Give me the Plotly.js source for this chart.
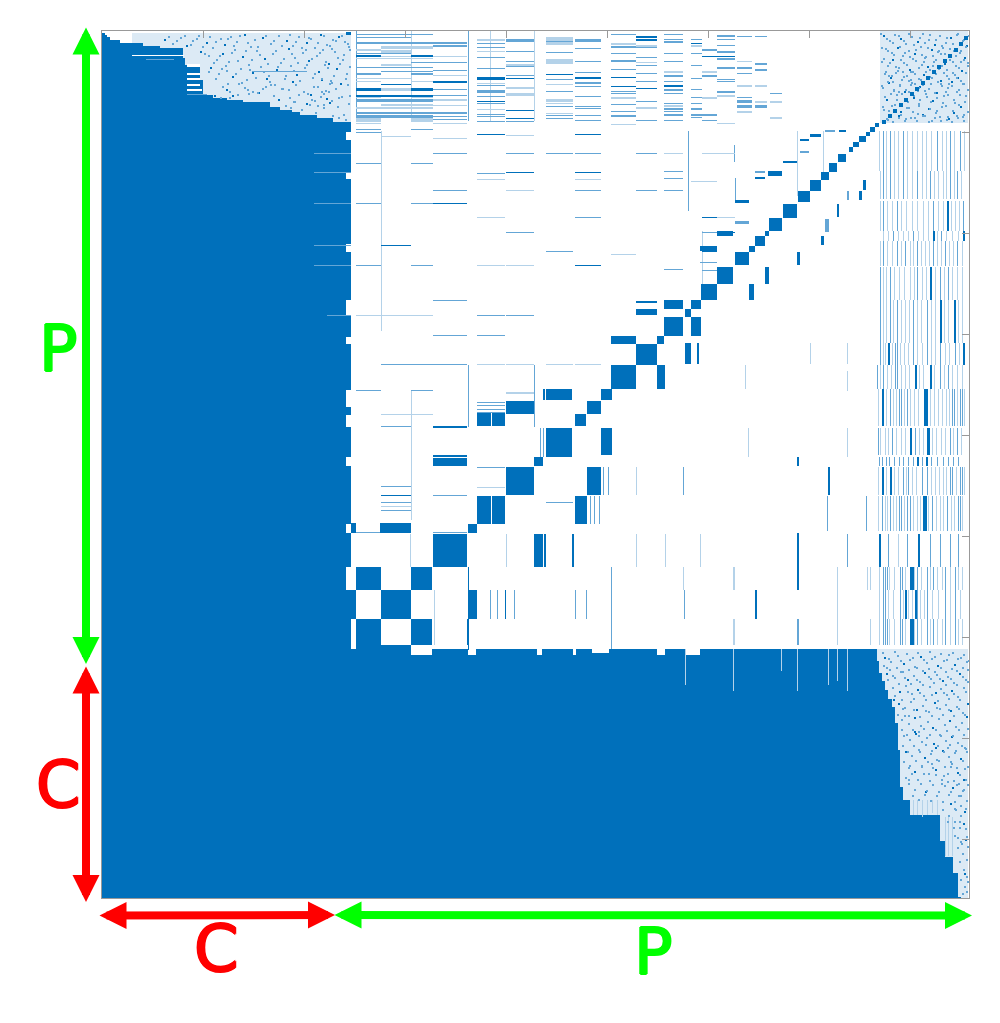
<!DOCTYPE html>
<html><head><meta charset="utf-8">
<script src="https://cdn.plot.ly/plotly-3.0.1.min.js"></script>
<style>html,body{margin:0;padding:0;background:#fff}.heatmaplayer image{filter:blur(0.45px)}</style></head>
<body><div id="chart" style="width:1000px;height:1023px"></div>
<script>
const matrixSize = 867;
const tickStep = 101;
const shades = ['#ffffff','#dceaf5','#b4d2e9','#64a6d6','#0070bb'];
// all entries are matrix indices (column, row)
const upperStairRows = [0,2,4,6,9,12,15,17,27,34,49,64,67,69,71,76,79,81,84,87,91];
const upperStairCols = [0,3,5,8,18,41,58,81,83,98,101,111,125,141,168,178,190,198,215,231,249];
const lowerStairRows = [619,630,642,650,659,668,676,692,719,756,769,784,810,826,842,866];
const lowerStairCols = [775,777,780,783,786,790,793,796,798,801,808,838,843,851,856,859];
const whiteBlocks = [[244,249,101,109],[244,249,141,148],[244,249,213,221],[244,249,269,284],[244,249,306,313],
 [244,249,359,376],[244,249,384,396],[244,249,426,435],[244,249,493,502],[244,249,536,559],
 [309,330,614,624],[366,374,618,624],[435,440,618,624],[555,563,618,624],[583,598,618,624],[471,474,618,624],[490,507,618,622],
 [85,98,33,36],[85,98,42,44],[85,98,47,49],[85,98,53,55],[85,100,58,60],[30,82,24,25]];
const whiteCols = [[583,618,654],[631,618,660],[695,618,660],[726,618,654],[745,618,660],[735,618,650],[679,618,640],
 [811,769,784],[815,769,784],[820,769,786],[825,769,784],[830,769,782],[835,769,784],[843,786,825],[846,786,825],[850,786,825]];
const stubRows = [[122,212,249],[141,212,249],[172,212,249],[214,212,249],[234,212,249],[284,225,249],[40,150,205],[28,44,72],[63,85,105]];
const denseBlocks = [[254,279,536,559],[309,330,536,559],[279,309,559,588],[254,279,588,614],[309,330,588,614],[331,365,503,536],
 [278,309,492,502],[249,254,492,502],[249,254,559,588],[254,309,614,618],[366,375,493,502],[366,375,559,588],[375,389,465,493],[390,403,465,493],[404,432,436,464],
 [485,499,436,464],[473,485,465,493],[432,441,503,536],[442,444,503,536],[470,472,503,536],[444,470,397,424],[499,510,397,424],
 [432,441,426,435],[444,470,424,426],[331,365,427,435],[331,365,424,426],[331,365,395,397],[375,389,382,395],[390,403,382,395],
 [404,432,370,383],[444,470,358,369],[441,443,358,369],[485,499,370,383],[473,484,383,395],[499,510,358,369],[509,534,334,358],
 [534,555,313,334],[583,589,312,333],[595,597,312,333],[555,563,334,358],[509,534,305,313],[534,555,278,284],[534,555,270,272],[555,562,305,313],
 [562,581,269,278],[562,581,286,305],[589,599,286,305],[589,599,269,278],[583,589,278,286],
 [599,615,253,269],[615,631,236,253],[633,647,221,234],[647,653,215,221],[653,663,205,215],[663,667,200,205],[667,680,187,200],
 [681,695,173,187],[696,708,160,171],[708,719,149,160],[719,727,141,149],[727,735,132,141],[736,744,123,131],[747,751,116,121],
 [751,757,111,116],[757,764,105,111],[764,768,101,105],[768,773,96,101],[773,777,92,96],
 [647,652,253,269],[663,667,236,253],[695,698,221,234],[719,722,205,214],[735,737,173,186],[757,760,160,169],[761,764,149,159],
 [598,615,215,220],[615,631,200,205],[633,647,169,172],[653,663,146,148],[666,680,140,145],[681,695,130,132],[698,707,108,110],
 [708,719,103,106],[737,744,99,101],[244,249,1,4]];
const midBlocks = [[723,727,188,201],[745,747,160,169],[598,615,231,232],[633,647,190,193],[653,663,140,142],[698,707,120,122],[723,733,99,101]];
// column spans used by the horizontal stripes
const stripeSpans = {a:[254,279],b:[279,309],c:[309,331],d:[331,365],e:[375,403],f:[404,432],g:[444,471],h:[473,499],i:[509,534],j:[534,555],
 k:[562,581],m:[589,600],n:[600,615],o:[615,633],p:[635,650],q:[653,665],r:[668,680],s:[683,697],t:[698,709],u:[710,722],v:[723,735]};
// [row, thickness, shade, spans]
const stripeRows = [[8,3,2,'f'],[8,2,1,'e'],[8,3,2,'h'],[5,2,3,'j'],[11,2,2,'abcd'],[12,1,2,'e'],[12,2,1,'i'],[6,8,1,'g'],[15,3,1,'bc'],[16,1,2,'e'],[15,2,2,'i'],[16,1,2,'j'],
 [19,3,1,'b'],[20,1,1,'e'],[20,1,2,'f'],[24,2,3,'ac'],[25,1,1,'bd'],[29,2,2,'i'],[28,5,1,'g'],[30,1,2,'fh'],[36,1,2,'abc'],[34,1,2,'j'],
 [39,1,2,'d'],[40,1,2,'bc'],[38,1,2,'i'],[37,1,2,'e'],[46,3,3,'e'],[43,1,3,'g'],[46,2,3,'h'],[47,1,3,'f'],[47,1,1,'ab'],[50,2,3,'d'],[50,1,1,'ac'],[53,1,3,'b'],[52,1,1,'e'],
 [55,1,3,'i'],[56,2,1,'f'],[57,3,3,'ac'],[57,3,1,'b'],[61,1,2,'e'],[62,1,2,'i'],[60,1,2,'g'],[62,3,1,'f'],[64,2,3,'abc'],[64,1,2,'d'],[65,1,2,'e'],[68,3,2,'abc'],[68,2,1,'d'],[70,1,3,'e'],[68,3,1,'g'],
 [73,2,1,'bc'],[73,1,2,'i'],[74,1,1,'d'],[81,2,2,'abcd'],[79,1,3,'f'],[78,1,1,'e'],[84,3,2,'abc'],[85,1,2,'de'],[87,4,1,'ac'],[87,1,3,'f'],[89,1,2,'jh'],[93,1,1,'i'],
 [98,1,2,'ac'],[101,1,2,'a'],[103,1,3,'e'],[103,1,3,'h'],[104,1,1,'f'],[105,1,1,'b'],[107,1,1,'d'],[122,1,2,'dfgjh'],[132,1,2,'ac'],[141,1,3,'f'],[142,1,2,'e'],[141,1,3,'h'],
 [148,1,1,'eh'],[159,1,2,'dhj'],[159,1,1,'f'],[172,1,2,'ac'],[172,1,3,'d'],[186,1,1,'e'],[186,1,2,'h'],[201,1,2,'f'],[214,1,3,'b'],[220,1,2,'g'],[223,1,1,'i'],[234,1,2,'ac'],[234,1,1,'ef'],[234,1,3,'h'],
 [269,1,2,'d'],[284,1,1,'abc'],[284,1,2,'ef'],[304,1,2,'de'],[333,1,2,'bcd'],[333,1,1,'efgh'],[359,1,2,'ac'],[361,2,1,'f'],[371,1,2,'e'],[374,1,2,'e'],[378,1,2,'e'],[381,1,2,'e'],
 [383,1,1,'bc'],[395,1,2,'b'],[436,1,2,'e'],[455,1,2,'b'],[456,1,1,'e'],[464,1,3,'b'],[464,1,2,'d'],[471,1,2,'bg'],[475,1,1,'b'],[479,1,2,'b'],[501,1,2,'ad'],
 [8,1,2,'kmo'],[10,2,2,'k'],[5,1,2,'pq'],[12,1,3,'m'],[18,2,2,'n'],[25,1,3,'no'],[27,2,2,'o'],[32,2,2,'q'],[36,2,2,'op'],[38,2,2,'q'],[44,2,2,'kn'],[50,1,2,'ko'],[54,2,3,'k'],[58,1,2,'m'],
 [60,2,2,'o'],[62,1,2,'kr'],[66,1,2,'mp'],[69,3,2,'p'],[70,2,1,'qr'],[74,3,2,'pq'],[77,2,2,'km'],[80,1,2,'k'],[83,2,2,'kmn'],[86,2,1,'r'],[89,1,2,'kn'],[92,1,1,'o'],
 [122,1,1,'kno'],[140,1,2,'k'],[147,1,2,'k'],[150,1,1,'mn'],[159,1,2,'k'],[186,1,3,'n'],[186,1,1,'o'],[201,1,2,'n'],[201,1,3,'o'],[220,1,3,'n'],[238,1,2,'k'],[239,1,2,'n'],
 [3,1,2,'abc'],[14,2,2,'d'],[18,2,1,'a'],[22,1,2,'ab'],[27,1,1,'abc'],[31,1,2,'cd'],[33,2,1,'b'],[42,2,2,'ac'],[44,1,1,'d'],[48,1,2,'g'],[51,2,2,'h'],[54,1,2,'e'],[58,1,2,'d'],[59,2,2,'e'],
 [66,1,1,'ac'],[72,1,2,'e'],[76,2,1,'abc'],[75,1,2,'gh'],[83,1,2,'e'],[88,1,2,'d'],[90,1,2,'ef'],[92,1,1,'ad'],[6,1,2,'ab'],[10,1,2,'g'],[17,1,2,'h'],[21,1,2,'g'],[26,1,2,'e'],[33,2,1,'f'],[35,1,2,'f'],[41,1,2,'h'],
 [44,1,2,'f'],[53,1,1,'g'],[55,1,2,'h'],[65,1,2,'h'],[72,1,1,'g'],[77,1,2,'h'],[82,1,1,'g'],[84,1,2,'gh'],[87,1,2,'g'],[3,1,2,'i'],[8,2,3,'j'],[14,2,1,'j'],[22,1,2,'i'],[26,1,2,'j'],[31,1,1,'j'],
 [42,1,2,'j'],[46,1,3,'i'],[50,1,2,'j'],[57,1,3,'j'],[60,1,2,'i'],[66,2,1,'i'],[70,1,2,'j'],[76,2,1,'j'],[80,1,2,'i'],[84,2,2,'i'],[3,1,2,'k'],[14,2,1,'m'],[22,1,2,'km'],[30,1,2,'k'],[34,1,2,'m'],[40,2,1,'kn'],
 [47,1,2,'m'],[58,2,2,'k'],[66,2,1,'n'],[72,1,2,'km'],[74,2,1,'k'],[86,1,2,'m'],[4,2,2,'o'],[14,1,2,'o'],[20,2,2,'o'],[30,1,1,'p'],[42,1,2,'p'],[48,1,2,'o'],[54,2,1,'pq'],[64,2,1,'o'],[80,2,1,'p']];
// [column, width, shade, first row, last row]
const stripeCols = [[309,1,1,359,489],[366,1,2,334,396],[432,1,2,334,396],[366,1,3,536,619],[509,1,2,536,618],[404,1,1,503,536],[308,1,1,503,536],[332,1,1,559,614],
 [388,1,2,559,588],[395,1,2,559,588],[403,1,3,559,588],[412,1,2,559,588],[473,1,2,559,588],[484,1,2,559,588],[501,1,2,436,464],[506,1,2,436,464],[488,1,2,465,493],[492,1,2,465,493],[497,1,2,465,493],
 [438,1,2,397,426],[441,1,2,397,426],[534,1,1,436,464],[534,1,1,503,536],[365,1,3,588,614],[581,1,2,436,464],[582,1,2,559,588],[581,1,1,536,559],[631,2,1,536,559],[631,2,1,588,614],[653,2,3,559,588],
 [695,2,3,502,559],[695,2,2,588,614],[735,1,1,536,614],[745,1,2,503,536],[726,2,3,436,464],[725,1,2,465,500],[764,1,2,465,500],[765,1,1,536,559],[768,1,1,536,559],[768,1,1,588,614],
 [598,1,1,503,536],[563,1,1,503,536],[646,1,1,397,426],[695,2,3,426,435],[708,1,1,312,333],[745,1,1,312,333],[643,1,1,334,358],[745,1,1,397,426],[633,1,2,147,170],[632,1,2,114,131],[695,1,1,100,165],[721,1,1,100,145],
 [254,1,2,0,90],[279,1,1,100,300],[309,1,1,0,90],[366,1,2,0,90],[388,1,1,0,90],[432,1,1,0,90],[586,1,2,100,180],[600,1,1,200,260],[745,1,1,340,360],
 [777,2,3,503,536],[786,1,2,503,536],[796,1,1,503,536],[805,1,2,503,536],[816,2,3,503,536],[828,1,2,503,536],[838,1,2,503,536],[848,1,2,503,536],[856,1,2,503,536]];
// [first row, last row, columns (shade 3 if negative)]
const panelBands = [[536,559,[781,783,785,798,800,-808,-810,815,825,831,843,853]],[559,588,[781,783,798,-803,-813,815,825,843,853]],[588,614,[781,783,785,798,800,-808,-810,815,825,831,843,853]],
 [465,500,[780,788,797,799,805,808,-821,-823,830,845,856,858]],[436,464,[-780,-788,801,806,820,825,848,850,858,860]],[426,435,[777,780,784,787,792,797,801,806,811,-815,820,-824,829,835,841,846,851,856]],
 [397,424,[776,790,-808,813,-825,-826,848,855]],[358,395,[-780,788,797,799,805,-822,-824,850,852,858,860]],[334,358,[775,781,793,795,-813,-828,838,846]],[312,334,[778,-786,793,795,811,825,838,853,-861]],
 [269,312,[778,788,795,811,825,-838,-852]],[236,269,[778,788,815,-828,838,846]],[210,235,[781,795,803,815,831,843,855]],[200,210,[791,811,-831,839,-861]],[170,200,[781,795,831,-845,861]],[140,168,[781,788,801,815,828,848,855]],[100,140,[781,788,801,835,848,858]]];
// paler columns in the same bands
const panelPale = [[536,559,[777,787,792,803,812,819,828,835,840,848,856,860]],[559,588,[777,786,791,801,806,810,818,822,830,836,848,858]],[588,614,[777,787,792,803,812,819,828,835,840,848,856,860]],
 [465,500,[776,783,785,791,794,802,811,815,818,826,834,838,841,849,852,860]],[436,464,[776,784,792,796,804,810,814,829,833,837,841,844,854,862]],
 [397,424,[778,783,786,794,799,803,817,821,830,834,839,843,851,859]],[358,395,[776,784,791,794,802,808,812,816,828,832,836,840,844,847,855,862]],[334,358,[778,785,789,799,803,807,817,821,832,842,850,855,860]],
 [312,334,[781,783,790,798,802,806,815,820,829,833,843,847,857]],[269,312,[781,784,791,799,803,807,815,819,829,833,842,846,856,860]],[236,269,[781,784,792,797,802,808,812,820,824,833,842,850,855,860]],
 [210,235,[778,785,790,799,808,811,819,823,827,835,839,847,851,860]],[200,210,[781,786,796,801,806,816,821,826,835,844,850,856]],[170,200,[778,785,790,799,804,810,815,821,826,836,841,849,853,857]],
 [140,168,[778,784,792,796,805,810,820,824,832,836,841,844,852,859]],[100,140,[777,784,792,796,805,810,815,820,824,829,840,844,852,862]]];
const panelDiagCols = [780,786,791,797,802,808,813,819,824,830,835,841,846,852,857,862];
const panelDiagRows = [89,83,78,72,67,61,56,50,45,39,34,28,23,17,11,5];
const upperLeftDotCols = [62,70,78,84,90,96,104,110,118,122,128,134,142,148,152,160,168,176,184,190,196,204,208,212,218,224,230,236,242,246,
 98,106,114,120,126,132,140,146,154,162,170,178,186,192,200,206,214,220,226,232,240,108,116,124,130,138,144,150,158,166,174,182,188,194,202,210,216,222,228,234,244,
 120,124,136,150,164,172,180,190,205,211,219,223,229,112,127,142,156,168,186,208,218,226,238,118,122,130,146,160,176,196,212,224,236,192,204,215,221,227,143,152,170,188];
const upperLeftDotRows = [8,12,6,14,9,4,11,16,7,13,5,10,3,15,8,6,12,4,9,14,5,11,7,16,3,13,8,5,10,15,
 20,24,28,22,30,18,25,33,19,27,22,31,17,26,21,29,24,18,32,20,28,36,42,39,45,37,48,41,35,44,38,47,34,43,36,46,40,33,49,37,42,
 55,58,52,60,47,53,57,50,62,55,48,59,51,64,66,56,61,53,58,63,65,60,52,66,70,64,62,57,68,63,69,67,66,70,72,74,73,71,75,78,80,76,82,79,84,64,58,44,22,70];
const upperLeftExtra = [66,5,74,9,82,4,88,13,94,7,100,15,107,5,113,10,125,7,131,14,137,4,145,11,155,15,163,4,171,9,179,14,187,3,193,10,199,16,206,6,215,11,221,4,227,14,233,9,239,4,245,12,
 102,22,111,31,117,24,123,34,129,21,135,29,143,19,149,28,157,23,165,32,173,19,181,27,189,22,195,31,203,18,209,27,217,21,223,30,229,17,235,26,241,23,247,18,
 106,40,113,47,119,37,125,52,133,42,139,51,147,38,153,46,161,40,167,50,175,35,183,44,191,39,197,49,204,33,212,42,219,47,225,36,231,44,237,32,243,47,247,35,
 127,60,135,63,145,58,155,61,163,55,171,64,179,57,187,66,193,53,201,60,209,68,215,55,221,62,227,52,233,57,239,65,245,53,247,64,
 183,74,191,70,199,78,207,73,213,81,221,76,229,69,235,75,241,83,246,72,219,60,230,84,243,88,236,86];
const upperRightDotCols = [781,787,792,798,803,809,815,820,826,832,837,843,848,854,860,864,783,789,795,800,806,812,818,823,829,835,840,846,851,857,862,
 779,785,790,796,801,807,813,819,825,831,836,842,847,853,859,865,782,788,793,799,804,810,816,821,827,833,838,844,850,855,861,780,786,791,797,802,808,814,817,822,828,834,839,845,849,856,863,
 784,794,805,811,816,824,830,841,852,858,781,789,798,806,815,826,834,843,851,860,785,796,803,812,820,829,837,846,854,863];
const upperRightDotRows = [4,9,3,7,12,5,10,2,8,13,4,11,6,3,9,14,17,21,16,24,19,22,15,25,18,20,16,23,19,21,26,
 30,34,28,36,31,38,29,33,35,30,37,32,28,34,39,31,42,46,41,48,44,40,47,43,45,42,49,44,41,46,52,56,51,58,54,60,53,57,55,59,52,61,54,56,50,58,
 64,68,63,70,66,72,65,69,64,71,75,78,74,80,76,82,77,79,74,81,85,88,84,87,86,83,89,85,87,84];
const upperRightExtra = [778,2,784,7,790,11,796,4,801,9,806,2,811,13,817,6,822,11,827,3,833,8,839,14,844,6,850,12,855,2,861,8,866,4,
 779,16,785,19,791,23,797,15,802,21,807,25,813,18,819,23,825,16,830,24,836,19,842,22,847,17,853,24,858,19,863,15,
 781,27,787,31,793,35,798,28,804,33,810,27,816,36,821,30,827,38,833,28,839,34,844,38,850,30,856,36,861,28,865,34,
 783,40,789,44,795,39,801,45,806,49,812,42,818,48,823,40,829,46,835,50,841,41,846,47,852,43,858,49,863,41,
 779,54,785,50,791,59,797,53,803,58,809,51,815,59,820,53,826,57,832,61,838,52,843,60,849,54,854,60,860,52,865,58,
 782,65,788,62,794,68,799,62,805,70,811,64,817,68,823,62,828,70,834,66,840,71,845,63,851,68,857,63,862,70,
 780,75,786,79,792,73,798,83,804,76,810,80,816,74,822,84,827,77,833,81,839,75,845,85,850,79,856,73,861,83,
 784,87,790,90,796,86,802,89,808,86,814,89,820,84,826,90,832,86,838,89,844,88,849,90,855,86,861,89,865,80,
 800,40,804,44,808,48,812,52,816,56,806,60,802,68,808,40,822,26,830,34,838,22,846,52,854,46,858,30,790,50,786,44,796,60,799,48];
const lowerRightDotCols = [782,788,795,801,807,812,818,824,829,835,841,846,852,858,864,784,792,798,805,811,817,822,828,834,840,845,851,857,863,790,797,803,809,815,821,827,833,838,844,849,855,861,
 796,802,808,814,820,826,832,837,843,848,854,860,865,799,806,812,818,825,830,836,842,847,853,859,864,801,807,813,819,824,831,837,843,849,855,862,803,809,816,822,828,834,840,846,852,858,863,
 806,812,819,826,833,841,848,855,862,845,850,856,861,848,853,858,862,852,857,861,855,859,863,860,864,862,865,784,791,802,816,833,849,806,823,839,856,812,829,845,861];
const lowerRightDotRows = [626,630,624,632,628,635,625,631,627,634,629,623,633,626,630,642,646,640,648,644,650,641,647,643,649,645,651,642,648,656,660,654,662,658,664,655,661,657,663,659,665,656,
 672,676,670,678,674,680,671,677,673,679,675,681,672,688,692,686,694,690,696,687,693,689,695,691,685,704,708,702,710,706,712,703,709,705,711,716,720,724,718,726,722,728,719,725,721,727,717,
 736,740,734,742,738,744,735,741,737,750,756,752,758,772,778,774,780,790,796,792,806,812,808,822,828,842,850,636,668,684,700,716,732,748,760,752,764,700,732,716,748];
const lowerRightExtra = [780,621,786,627,792,620,798,629,804,622,810,626,815,621,821,628,827,620,832,625,838,622,844,628,850,621,855,627,861,623,866,629,
 781,634,787,638,794,636,800,640,806,638,814,636,820,639,826,637,832,640,838,636,843,640,849,637,854,639,860,636,865,638,
 785,648,790,644,796,652,802,646,808,652,814,648,820,653,826,645,831,651,837,647,843,653,848,647,854,653,860,645,865,650,
 792,664,799,668,805,660,811,667,817,661,823,668,829,663,835,669,841,661,846,667,851,662,857,668,863,660,
 795,683,800,677,806,684,811,678,817,685,823,679,829,684,834,676,840,683,846,678,851,684,856,677,862,683,
 799,698,804,703,810,698,816,704,821,697,827,703,833,698,838,704,844,699,850,704,856,698,861,703,865,697,
 800,714,805,720,811,714,817,720,823,713,829,719,835,714,841,720,847,713,853,719,859,714,864,720,
 801,730,807,734,813,729,819,735,825,730,830,736,836,729,842,735,848,730,854,736,860,729,865,735,
 803,746,809,742,815,748,821,742,827,749,833,743,839,748,845,742,851,749,857,743,863,748,
 806,752,812,758,818,752,824,759,830,753,836,760,842,754,848,760,854,753,860,759,865,753,
 810,764,816,768,822,763,828,769,834,764,840,770,846,763,852,770,858,764,864,769,
 840,778,846,784,852,777,858,784,863,777,845,790,851,796,857,790,863,797,852,804,858,810,864,805,855,816,860,822,865,815,857,830,861,838,864,828,858,848,862,855,864,845,860,862,864,860];
const arrowList = [[86,26,86,664,'#00ff00'],[86,665,86,902,'#ff0000'],[98,915.5,335,915,'#ff0000'],[333,915,972,915.5,'#00ff00']];
const labelList = [['P',58,349,'#00ff00'],['C',58,785,'#ff0000'],['C',216,949,'#ff0000'],['P',653,952,'#00ff00']];

const z = Array.from({length:matrixSize},()=>new Uint8Array(matrixSize));
function put(c0,c1,r0,r1,v){for(let r=Math.max(0,r0);r<Math.min(matrixSize,r1);r++)for(let c=Math.max(0,c0);c<Math.min(matrixSize,c1);c++)z[r][c]=v;}
function stairEnd(rows,cols,r){let e=cols[0];for(let i=0;i<rows.length;i++)if(r>=rows[i])e=cols[i];return e;}
put(30,249,2,92,1); put(778,866,0,92,1); put(775,866,618,866,1);
for(let r=0;r<618;r++)put(0,r<92?stairEnd(upperStairRows,upperStairCols,r):249,r,r+1,4);
put(0,matrixSize,618,matrixSize,0);
for(let r=618;r<matrixSize;r++){put(0,775,r,r+1,4);put(775,866,r,r+1,1);put(775,stairEnd(lowerStairRows,lowerStairCols,r),r,r+1,4);}
whiteBlocks.forEach(b=>put(b[0],b[1],b[2],b[3],0));
whiteCols.forEach(w=>put(w[0],w[0]+1,w[1],w[2],2));
stubRows.forEach(s=>put(s[1],s[2],s[0],s[0]+1,3));
stripeCols.forEach(s=>put(s[0],s[0]+s[1],s[3],s[4],s[2]+1));
panelPale.forEach(b=>b[2].forEach(c=>put(c,c+1,b[0],b[1],2)));
panelBands.forEach(b=>b[2].forEach(c=>{const v=c<0?4:3;const col=Math.abs(c);put(col,col+(v===4?2:1),b[0],b[1],v);}));
stripeRows.forEach(s=>{for(const k of s[3]){const sp=stripeSpans[k];put(sp[0],sp[1],s[0],s[0]+s[1],s[2]+1);}});
denseBlocks.forEach(b=>put(b[0],b[1],b[2],b[3],4));
midBlocks.forEach(b=>put(b[0],b[1],b[2],b[3],3));
function speckle(c,r,v,limit){if(!limit||c>=stairEnd(lowerStairRows,lowerStairCols,r))put(c,c+2,r,r+2,v);}
upperLeftDotCols.forEach((c,i)=>{if(c>=stairEnd(upperStairRows,upperStairCols,upperLeftDotRows[i]))put(c,c+2,upperLeftDotRows[i],upperLeftDotRows[i]+2,i%3===0?4:3);});
for(let i=0;i<upperLeftExtra.length;i+=2){const c=upperLeftExtra[i],r=upperLeftExtra[i+1];if(c>=stairEnd(upperStairRows,upperStairCols,r))put(c,c+2,r,r+2,3);}
upperRightDotCols.forEach((c,i)=>speckle(c,upperRightDotRows[i],i%3===0?4:3));
for(let i=0;i<upperRightExtra.length;i+=2)speckle(upperRightExtra[i],upperRightExtra[i+1],3);
lowerRightDotCols.forEach((c,i)=>speckle(c,lowerRightDotRows[i],i%3===0?4:3,true));
for(let i=0;i<lowerRightExtra.length;i+=2)speckle(lowerRightExtra[i],lowerRightExtra[i+1],3,true);
panelDiagCols.forEach((c,i)=>put(c,c+4,panelDiagRows[i],panelDiagRows[i]+4,4));

const W=867,L=102,T=31;
const px=v=>(v-L)/W, py=v=>1-(v-T)/W;
const annotations=[];
arrowList.forEach(a=>annotations.push({xref:'paper',yref:'paper',axref:'pixel',ayref:'pixel',x:px(a[2]),y:py(a[3]),ax:a[0]-a[2],ay:a[1]-a[3],text:'',showarrow:true,
  arrowside:'end+start',arrowhead:2,startarrowhead:2,arrowsize:0.675,startarrowsize:0.675,arrowwidth:8,arrowcolor:a[4],standoff:0,startstandoff:0}));
labelList.forEach(l=>annotations.push({xref:'paper',yref:'paper',x:px(l[1]),y:py(l[2]),xanchor:'center',yanchor:'middle',text:l[0],showarrow:false,
  font:{family:'DejaVu Sans',size:64,color:l[3],shadow:`1px 0 0 ${l[3]},-1px 0 0 ${l[3]},0 1px 0 ${l[3]},0 -1px 0 ${l[3]}`}}));
Plotly.newPlot('chart',[{type:'heatmap',z:z.map(r=>Array.from(r)),x0:0.5,dx:1,y0:0.5,dy:1,zmin:0,zmax:4,showscale:false,hoverinfo:'skip',zsmooth:false,
  colorscale:shades.map((s,i)=>[i/4,s])}],{
  width:1000,height:1023,margin:{l:102,t:31,r:31,b:125,pad:0},paper_bgcolor:'#fff',plot_bgcolor:'#fff',showlegend:false,
  xaxis:{range:[0,matrixSize],side:'top',dtick:tickStep,tick0:0,ticks:'inside',ticklen:7,tickcolor:'#999',showticklabels:false,showgrid:false,zeroline:false,showline:true,mirror:true,linecolor:'#999',linewidth:1},
  yaxis:{range:[matrixSize,0],side:'right',dtick:tickStep,tick0:0,ticks:'inside',ticklen:7,tickcolor:'#999',showticklabels:false,showgrid:false,zeroline:false,showline:true,mirror:true,linecolor:'#999',linewidth:1},
  annotations},{staticPlot:true,displayModeBar:false});
</script></body></html>
